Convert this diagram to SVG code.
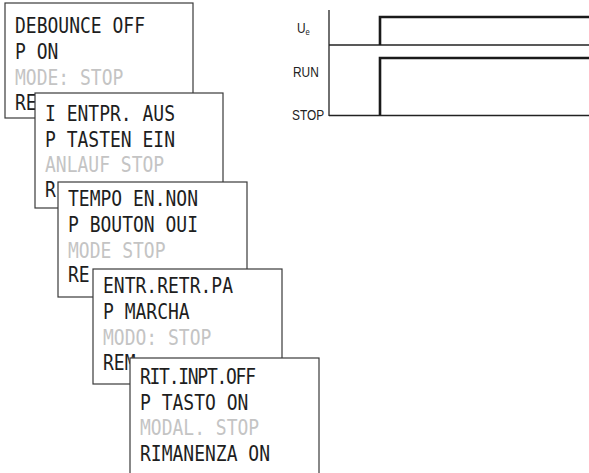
<svg xmlns="http://www.w3.org/2000/svg" width="589" height="473" viewBox="0 0 589 473">
<style>
.box{fill:#fff;stroke:#3a3a3a;stroke-width:1.2}
.t{font-family:"DejaVu Sans Mono","Liberation Mono",monospace;font-size:18px;fill:#1e1e1e}
.g{fill:#c4c4c4}
.lbl{font-family:"Liberation Sans",Arial,sans-serif;font-size:14px;fill:#222}
.thin{stroke:#222;stroke-width:1.3;fill:none}
.thick{stroke:#1a1a1a;stroke-width:2.6;fill:none}
</style>
<rect width="589" height="473" fill="#fff"/>
<g id="screen-en">
<rect class="box" x="5" y="3" width="188" height="115"/>
<text class="t" transform="translate(15,33) scale(1,1.17)">DEBOUNCE OFF</text>
<text class="t" transform="translate(15,59) scale(1,1.17)">P ON</text>
<text class="t g" transform="translate(15,85) scale(1,1.17)">MODE: STOP</text>
<text class="t" transform="translate(15,110) scale(1,1.17)">RE</text>
</g>
<g id="screen-de">
<rect class="box" x="35" y="93" width="188" height="115"/>
<text class="t" transform="translate(45,121) scale(1,1.17)">I ENTPR. AUS</text>
<text class="t" transform="translate(45,147) scale(1,1.17)">P TASTEN EIN</text>
<text class="t g" transform="translate(45,172) scale(1,1.17)">ANLAUF STOP</text>
<text class="t" transform="translate(45,197) scale(1,1.17)">R</text>
</g>
<g id="screen-fr">
<rect class="box" x="58" y="182" width="189" height="115"/>
<text class="t" transform="translate(68,206) scale(1,1.17)">TEMPO EN.NON</text>
<text class="t" transform="translate(68,232) scale(1,1.17)">P BOUTON OUI</text>
<text class="t g" transform="translate(68,258) scale(1,1.17)">MODE STOP</text>
<text class="t" transform="translate(68,282) scale(1,1.17)">RE</text>
</g>
<g id="screen-es">
<rect class="box" x="93" y="269" width="189" height="115"/>
<text class="t" transform="translate(103,293) scale(1,1.17)">ENTR.RETR.PA</text>
<text class="t" transform="translate(103,319) scale(1,1.17)">P MARCHA</text>
<text class="t g" transform="translate(103,345) scale(1,1.17)">MODO: STOP</text>
<text class="t" transform="translate(103,370) scale(1,1.17)">REM</text>
</g>
<g id="screen-it">
<rect class="box" x="130" y="358" width="189" height="125"/>
<text class="t" transform="translate(140,384) scale(1,1.17)" textLength="116">RIT.INPT.OFF</text>
<text class="t" transform="translate(140,410) scale(1,1.17)">P TASTO ON</text>
<text class="t g" transform="translate(140,435) scale(1,1.17)">MODAL. STOP</text>
<text class="t" transform="translate(140,461) scale(1,1.17)">RIMANENZA ON</text>
</g>
<g id="timing">
<line class="thin" x1="329" y1="10" x2="329" y2="116"/>
<line class="thin" x1="329" y1="45" x2="589" y2="45"/>
<line class="thin" x1="329" y1="115.5" x2="589" y2="115.5"/>
<polyline class="thick" points="380,45 380,17 589,17"/>
<polyline class="thick" points="380,115 380,58 589,58"/>
<text class="lbl" transform="translate(297,33) scale(0.85,1)">U<tspan font-size="9" dy="2">e</tspan></text>
<text class="lbl" transform="translate(293,77) scale(0.85,1)">RUN</text>
<text class="lbl" transform="translate(292,120) scale(0.85,1)">STOP</text>
</g>
</svg>
